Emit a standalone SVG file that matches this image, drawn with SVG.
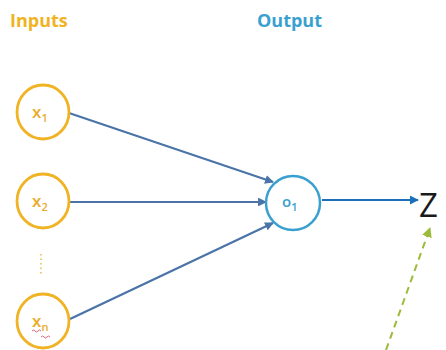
<svg xmlns="http://www.w3.org/2000/svg" width="446" height="350" viewBox="0 0 446 350">
<style>
.title{font-family:"Open Sans","Liberation Sans",sans-serif;font-weight:bold;font-size:18px}
.in{fill:none;stroke:#F0B323;stroke-width:2.8}
.lbl{font-family:"Open Sans","Liberation Sans",sans-serif;font-size:17px;fill:#E8AC2A;font-weight:600}
.sub{font-size:11px}
.olbl{font-family:"Open Sans","Liberation Sans",sans-serif;font-size:15px;fill:#3AA0D0;font-weight:600}
.edge{stroke:#4A74A8;stroke-width:2.2;fill:none}
</style>
<defs>
<marker id="ah" viewBox="0 0 10 10" refX="9" refY="5" markerWidth="4" markerHeight="4" orient="auto" markerUnits="strokeWidth"><path d="M0,0 L10,5 L0,10 z" fill="#4A74A8"/></marker>
<marker id="ahb" viewBox="0 0 10 10" refX="9" refY="5" markerWidth="4.5" markerHeight="4.5" orient="auto" markerUnits="strokeWidth"><path d="M0,0 L10,5 L0,10 z" fill="#1A6FB8"/></marker>
<marker id="ahg" viewBox="0 0 10 10" refX="9" refY="5" markerWidth="5" markerHeight="5" orient="auto" markerUnits="strokeWidth"><path d="M0,0 L10,5 L0,10 z" fill="#9BBB3A"/></marker>
</defs>
<rect width="446" height="350" fill="#ffffff"/>
<text class="title" x="10" y="27" fill="#F0B323">Inputs</text>
<text class="title" x="257" y="27" fill="#3AA0D0">Output</text>
<g id="connectors">
<line class="edge" x1="69" y1="113" x2="273" y2="182" marker-end="url(#ah)"/>
<line class="edge" x1="69" y1="202" x2="266" y2="202" marker-end="url(#ah)"/>
<line class="edge" x1="70" y1="319" x2="273" y2="223" marker-end="url(#ah)"/>
<line x1="322" y1="200" x2="418" y2="200" stroke="#1A6FB8" stroke-width="2" marker-end="url(#ahb)"/>
<line x1="386" y1="350" x2="430" y2="228" stroke="#9BBB3A" stroke-width="2" stroke-dasharray="7,5" marker-end="url(#ahg)"/>
</g>
<g id="x1">
<ellipse class="in" cx="43" cy="112" rx="26" ry="27"/>
<text class="lbl" x="32" y="118">x<tspan class="sub" dy="4">1</tspan></text>
</g>
<g id="x2">
<ellipse class="in" cx="43" cy="201" rx="26" ry="27"/>
<text class="lbl" x="32" y="207">x<tspan class="sub" dy="4">2</tspan></text>
</g>
<g id="dots">
<line x1="41" y1="254" x2="41" y2="274" stroke="#E8B84A" stroke-width="1.5" stroke-dasharray="1.5,3"/>
</g>
<g id="xn">
<ellipse class="in" cx="43" cy="321" rx="26" ry="27"/>
<text class="lbl" x="32" y="327">x<tspan class="sub" dy="4">n</tspan></text>
<path d="M32,331 q1.5,-2 3,0 t3,0 t3,0 M41,337 q1.5,-2 3,0 t3,0 t3,0" fill="none" stroke="#D04060" stroke-width="0.8"/>
</g>
<g id="o1">
<circle cx="293" cy="203" r="27" fill="none" stroke="#3AA0D0" stroke-width="2.5"/>
<text class="olbl" x="282" y="207">o<tspan class="sub" dy="4">1</tspan></text>
</g>
<g id="z">
<text x="419" y="217" font-family="Open Sans, Liberation Sans, sans-serif" font-size="33" fill="#1a1a1a">Z</text>
</g>
</svg>
